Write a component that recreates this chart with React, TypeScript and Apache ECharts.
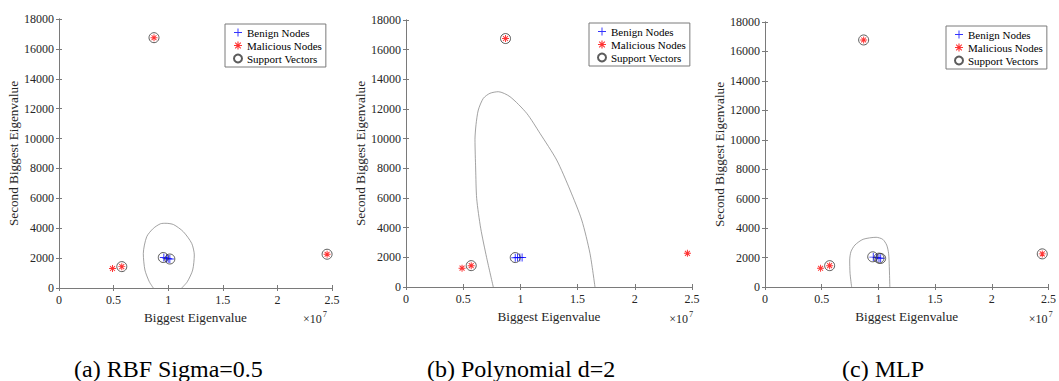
import React, { useEffect, useRef } from "react";
import * as echarts from "echarts";

const FONT = "'Times New Roman', 'Liberation Serif', 'DejaVu Serif', serif";

// x values are in units of 1e7 (axis shows ×10^7)
const benignRBF = [[0.96, 2040], [0.985, 1990], [1.0, 1960], [1.015, 1940]];
const maliciousRBF = [[0.49, 1300], [0.575, 1430], [0.87, 16750], [2.455, 2260]];
const supportRBF = [[0.955, 2040], [1.015, 1940], [0.575, 1430], [0.87, 16750], [2.455, 2260]];
const boundaryRBF = [
  [0.864, 0], [0.827, 420], [0.787, 1200], [0.772, 2300], [0.803, 3430], [0.864, 3990],
  [0.93, 4300], [0.98, 4330], [1.05, 4240], [1.138, 3770], [1.215, 2990], [1.239, 2210],
  [1.224, 1200], [1.175, 420], [1.124, 0],
];

const benignPoly = [[0.955, 1975], [0.975, 1985], [0.995, 1985], [1.015, 1985]];
const maliciousPoly = [[0.49, 1270], [0.57, 1440], [0.87, 16750], [2.46, 2270]];
const supportPoly = [[0.955, 1985], [0.57, 1440], [0.87, 16750]];
const boundaryPoly = [
  [0.763, 0], [0.705, 1975], [0.653, 3957], [0.618, 5953], [0.609, 7955], [0.603, 9957],
  [0.612, 10940], [0.632, 11933], [0.676, 12720], [0.734, 13058], [0.807, 13166],
  [0.909, 12830], [1.055, 11710], [1.171, 10360], [1.317, 8562], [1.434, 6539],
  [1.536, 4517], [1.608, 2272], [1.652, 0],
];

const benignMLP = [[0.955, 2030], [0.985, 2000], [1.005, 1960], [1.02, 1950]];
const maliciousMLP = [[0.49, 1270], [0.57, 1450], [0.87, 16780], [2.445, 2250]];
const supportMLP = [[0.95, 2050], [1.005, 1960], [1.02, 1940], [0.57, 1450], [0.87, 16780], [2.445, 2250]];
const boundaryMLP = [
  [0.764, 0], [0.75, 930], [0.747, 1830], [0.758, 2400], [0.793, 2850], [0.865, 3240],
  [0.98, 3376], [1.038, 3240], [1.073, 2850], [1.09, 2290], [1.096, 1380], [1.101, 0],
];

const legendNames = ["Benign Nodes", "Malicious Nodes", "Support Vectors"];
const captions = ["(a) RBF Sigma=0.5", "(b) Polynomial d=2", "(c) MLP"];
const xAxisTitle = "Biggest Eigenvalue";
const yAxisTitle = "Second Biggest Eigenvalue";

const panelsData = [
  { benign: benignRBF, malicious: maliciousRBF, support: supportRBF, boundary: boundaryRBF },
  { benign: benignPoly, malicious: maliciousPoly, support: supportPoly, boundary: boundaryPoly },
  { benign: benignMLP, malicious: maliciousMLP, support: supportMLP, boundary: boundaryMLP },
];

// layout
const grids = [
  { left: 59, top: 19, width: 273, height: 269 },
  { left: 406, top: 20, width: 286, height: 267 },
  { left: 765, top: 22, width: 289, height: 265 },
];
const legendPos = [
  { left: 225, top: 24 },
  { left: 589, top: 23 },
  { left: 946, top: 26 },
];
const expPos = [
  { x: 321.7, y: 319 },
  { x: 688, y: 318.5 },
  { x: 1047.5, y: 319 },
];
const captionPos = [
  { x: 74, y: 369 },
  { x: 427, y: 369 },
  { x: 842, y: 369 },
];

const PLUS = "path://M4.4,0H5.6V10H4.4Z M0,4.4H10V5.6H0Z";
const STAR = "path://M4.3,0H5.7V10H4.3Z M0,4.3H10V5.7H0Z M2,1L9,8L8,9L1,2Z M9,2L2,9L1,8L8,1Z";

const BOX = "#7a7a7a";
const LABEL = "#262626";

export default function App() {
  const ref = useRef<HTMLDivElement>(null);

  useEffect(() => {
    if (!ref.current) return;
    const chart = echarts.init(ref.current, null, { renderer: "svg" });

    const xAxes: any[] = [];
    const yAxes: any[] = [];
    const series: any[] = [];
    const legends: any[] = [];
    const graphics: any[] = [];

    grids.forEach((g, i) => {
      const tick = { show: true, inside: true, length: 3, lineStyle: { color: BOX, width: 1 } };
      const line = { show: true, lineStyle: { color: BOX, width: 1 } };
      const fmt = (v: number) => String(v);
      xAxes.push({
        type: "value", gridIndex: i, position: "bottom", min: 0, max: 2.5, interval: 0.5,
        axisLine: line, axisTick: tick, splitLine: { show: false },
        axisLabel: { fontFamily: FONT, fontSize: 12, color: LABEL, margin: 6, formatter: fmt },
        name: xAxisTitle, nameLocation: "middle", nameGap: 19,
        nameTextStyle: { fontFamily: FONT, fontSize: 13.2, color: LABEL },
      });
      xAxes.push({
        type: "value", gridIndex: i, position: "top", min: 0, max: 2.5, interval: 0.5,
        axisLine: line, axisTick: tick, splitLine: { show: false }, axisLabel: { show: false },
      });
      yAxes.push({
        type: "value", gridIndex: i, position: "left", min: 0, max: 18000, interval: 2000,
        axisLine: line, axisTick: tick, splitLine: { show: false },
        axisLabel: { fontFamily: FONT, fontSize: 12, color: LABEL, margin: 5, formatter: fmt },
        name: yAxisTitle, nameLocation: "middle", nameGap: 36,
        nameTextStyle: { fontFamily: FONT, fontSize: 13.2, color: LABEL },
      });
      yAxes.push({
        type: "value", gridIndex: i, position: "right", min: 0, max: 18000, interval: 2000,
        axisLine: line, axisTick: tick, splitLine: { show: false }, axisLabel: { show: false },
      });

      const d = panelsData[i];
      const xi = i * 2;
      const yi = i * 2;
      series.push({
        type: "line", name: "boundary", xAxisIndex: xi, yAxisIndex: yi, data: d.boundary,
        smooth: 0.25, showSymbol: false, symbol: "none", silent: true,
        lineStyle: { color: "#8a8a8a", width: 0.8 }, z: 1,
      });
      series.push({
        type: "scatter", name: "Benign Nodes", xAxisIndex: xi, yAxisIndex: yi, data: d.benign,
        symbol: PLUS, symbolSize: 8, itemStyle: { color: "#0000ff" }, z: 3, silent: true,
      });
      series.push({
        type: "scatter", name: "Malicious Nodes", xAxisIndex: xi, yAxisIndex: yi, data: d.malicious,
        symbol: STAR, symbolSize: 7, itemStyle: { color: "#ff0000" }, z: 2, silent: true,
      });
      series.push({
        type: "scatter", name: "Support Vectors", xAxisIndex: xi, yAxisIndex: yi, data: d.support,
        symbol: "circle", symbolSize: 10,
        itemStyle: { color: "rgba(0,0,0,0)", borderColor: "#333", borderWidth: 1 }, z: 4, silent: true,
      });

      legends.push({
        data: legendNames, orient: "vertical", left: legendPos[i].left, top: legendPos[i].top,
        selectedMode: false, backgroundColor: "#fff", borderColor: BOX, borderWidth: 1,
        padding: [3, 4, 3, 8], itemGap: 2, itemWidth: 8, itemHeight: 8,
        textStyle: { fontFamily: FONT, fontSize: 11, color: "#000", lineHeight: 10.5 },
      });

      graphics.push({
        type: "text", x: expPos[i].x, y: expPos[i].y,
        style: { text: "×10", font: `12px ${FONT}`, fill: LABEL, align: "right", verticalAlign: "middle" },
      });
      graphics.push({
        type: "text", x: expPos[i].x + 1, y: expPos[i].y - 5,
        style: { text: "7", font: `8.5px ${FONT}`, fill: LABEL, align: "left", verticalAlign: "middle" },
      });
      graphics.push({
        type: "text", x: captionPos[i].x, y: captionPos[i].y,
        style: { text: captions[i], font: `24px ${FONT}`, fill: "#000", align: "left", verticalAlign: "middle" },
      });
    });

    chart.setOption({
      animation: false,
      backgroundColor: "#fff",
      textStyle: { fontFamily: FONT },
      grid: grids.map((g) => ({ ...g, containLabel: false })),
      xAxis: xAxes,
      yAxis: yAxes,
      legend: legends,
      series,
      graphic: graphics,
    });

    return () => chart.dispose();
  }, []);

  return (
    <div
      ref={ref}
      style={{ position: "absolute", left: 0, top: 0, width: 1059, height: 381, background: "#fff" }}
    />
  );
}
